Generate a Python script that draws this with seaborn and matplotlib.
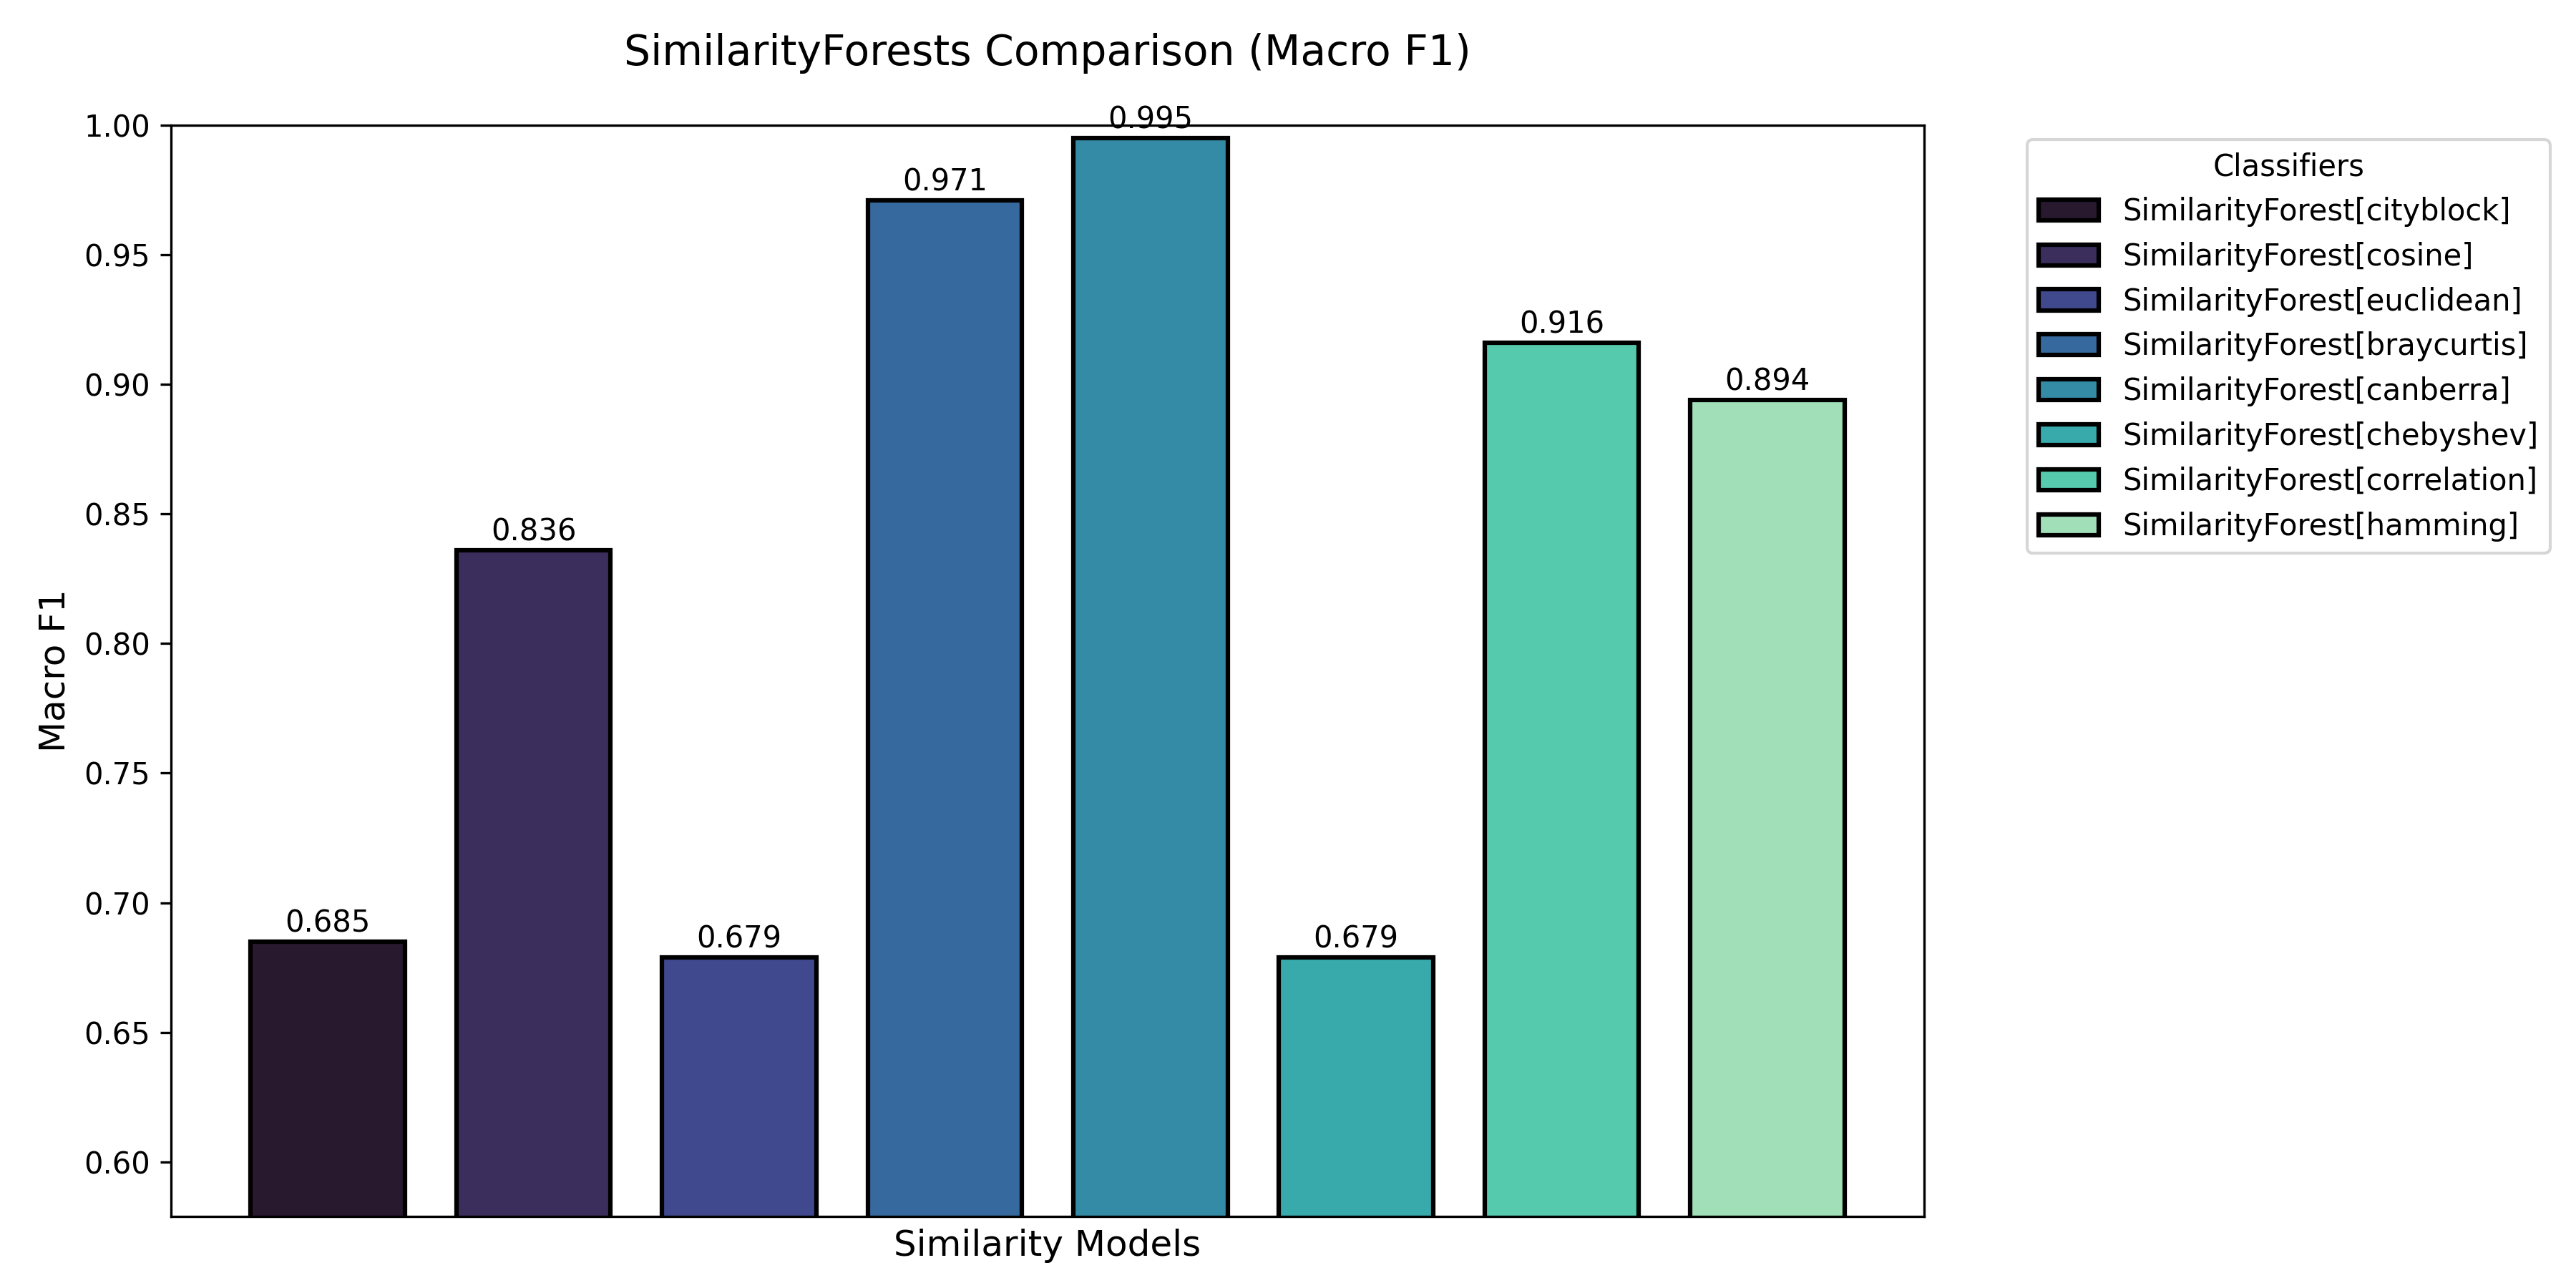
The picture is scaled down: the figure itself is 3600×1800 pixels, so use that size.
import matplotlib
matplotlib.use("Agg")
import matplotlib.pyplot as plt
import seaborn as sns
import pandas as pd

# scores
classifiers = [
    "SimilarityForest[cityblock]",
    "SimilarityForest[cosine]",
    "SimilarityForest[euclidean]",
    "SimilarityForest[braycurtis]",
    "SimilarityForest[canberra]",
    "SimilarityForest[chebyshev]",
    "SimilarityForest[correlation]",
    "SimilarityForest[hamming]",
]
macro_f1 = [0.685, 0.836, 0.679, 0.971, 0.995, 0.679, 0.916, 0.894]

df = pd.DataFrame({"Classifier": classifiers, "Macro F1": macro_f1})
palette = sns.color_palette("mako", len(classifiers))

fig, ax = plt.subplots(figsize=(12, 6), dpi=300)
fig.subplots_adjust(left=0.0664, right=0.747, top=0.903, bottom=0.0556)

sns.barplot(data=df, x="Classifier", y="Macro F1", hue="Classifier",
            palette=palette, saturation=1, width=0.75, edgecolor="black",
            linewidth=1.5, legend=False, ax=ax)

for c in ax.containers:
    ax.bar_label(c, fmt="%.3f", fontsize=10, padding=1)

ax.set_xlim(-0.7625, len(classifiers) - 1 + 0.7625)
ax.set_ylim(min(macro_f1) - 0.1, 1.0)
ax.set_xticks([])
ax.set_xlabel("Similarity Models", fontsize=12)
ax.set_ylabel("Macro F1", fontsize=12)
ax.set_title("SimilarityForests Comparison (Macro F1)", fontsize=14, pad=20)

handles = [plt.Rectangle((0, 0), 1, 1, facecolor=col, edgecolor="black", linewidth=1.5)
           for col in palette]
ax.legend(handles, classifiers, title="Classifiers", loc="upper left",
          bbox_to_anchor=(1.05, 1), fontsize=10)

fig.savefig("out.png", dpi=300)
